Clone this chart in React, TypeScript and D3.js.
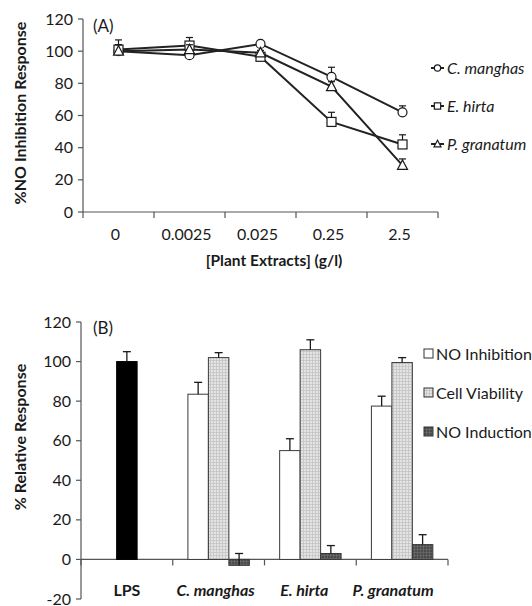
import React from "react";
import * as d3 from "d3";

const concentrations = ["0", "0.0025", "0.025", "0.25", "2.5"];
const lineSeries = ["C. manghas", "E. hirta", "P. granatum"];
const cManghas = [100, 97.5, 104.5, 84, 62];
const cManghasErr = [4, 2, 1.5, 6, 4];
const eHirta = [101, 103.5, 96.5, 56, 42];
const eHirtaErr = [6, 5, 1.5, 6, 6];
const pGranatum = [100, 101, 99, 78, 29];
const pGranatumErr = [4, 3, 1.5, 3, 4];
const yTicksA = [0, 20, 40, 60, 80, 100, 120];

const barCategories = ["LPS", "C. manghas", "E. hirta", "P. granatum"];
const barSeries = ["NO Inhibition", "Cell Viability", "NO Induction"];
const lpsValue = 100;
const lpsErr = 5;
const noInhibition = [83.5, 55, 77.5];
const noInhibitionErr = [6, 6, 5];
const cellViability = [102, 106, 99.5];
const cellViabilityErr = [2.5, 5, 2.5];
const noInduction = [-3, 3, 7.5];
const noInductionErr = [6, 4, 5];
const yTicksB = [-20, 0, 20, 40, 60, 80, 100, 120];

const FONT = "Lato, 'Open Sans', sans-serif";
const INK = "#1a1a1a";

export default function App() {
  // Panel A
  const xA = d3.scaleBand<string>().domain(concentrations).range([83, 438]);
  const yA = d3.scaleLinear().domain([0, 120]).range([212, 19]);
  const seriesA = [
    { name: lineSeries[0], vals: cManghas, errs: cManghasErr, shape: "circle" },
    { name: lineSeries[1], vals: eHirta, errs: eHirtaErr, shape: "square" },
    { name: lineSeries[2], vals: pGranatum, errs: pGranatumErr, shape: "triangle" },
  ];
  const line = d3
    .line<number>()
    .x((_, i) => (xA(concentrations[i]) as number) + xA.bandwidth() / 2)
    .y((d) => yA(d));

  const marker = (shape: string, cx: number, cy: number, s = 1) => {
    if (shape === "circle")
      return <circle cx={cx} cy={cy} r={4.5 * s} fill="#fff" stroke={INK} strokeWidth={1.2} />;
    if (shape === "square")
      return (
        <rect x={cx - 4.5 * s} y={cy - 4.5 * s} width={9 * s} height={9 * s} fill="#fff" stroke={INK} strokeWidth={1.2} />
      );
    const h = 9 * s;
    return (
      <path
        d={`M${cx},${cy - h * 0.6}L${cx + 5 * s},${cy + h * 0.45}L${cx - 5 * s},${cy + h * 0.45}Z`}
        fill="#fff"
        stroke={INK}
        strokeWidth={1.2}
      />
    );
  };

  // Panel B
  const xB = d3.scaleBand<string>().domain(barCategories).range([81, 448]);
  const yB = d3.scaleLinear().domain([-20, 120]).range([599, 322]);
  const inner = d3
    .scaleBand<string>()
    .domain(barSeries)
    .range([0, xB.bandwidth()])
    .paddingInner(0)
    .paddingOuter(0.74);
  const fills = ["#ffffff", "url(#patLight)", "url(#patDark)"];
  const barData = [
    { vals: noInhibition, errs: noInhibitionErr },
    { vals: cellViability, errs: cellViabilityErr },
    { vals: noInduction, errs: noInductionErr },
  ];

  const bars: any[] = [];
  {
    const x = (xB("LPS") as number) + (inner(barSeries[1]) as number);
    const cx = x + inner.bandwidth() / 2;
    bars.push(
      <g key="lps">
        <rect x={x} y={yB(lpsValue)} width={inner.bandwidth()} height={yB(0) - yB(lpsValue)} fill="#000" stroke="#000" />
        <line x1={cx} x2={cx} y1={yB(lpsValue)} y2={yB(lpsValue + lpsErr)} stroke={INK} strokeWidth={1.3} />
        <line x1={cx - 4} x2={cx + 4} y1={yB(lpsValue + lpsErr)} y2={yB(lpsValue + lpsErr)} stroke={INK} strokeWidth={1.3} />
      </g>
    );
  }
  barCategories.slice(1).forEach((cat, ci) => {
    barData.forEach((s, si) => {
      const v = s.vals[ci];
      const e = s.errs[ci];
      const x = (xB(cat) as number) + (inner(barSeries[si]) as number);
      const w = inner.bandwidth();
      const top = Math.min(yB(v), yB(0));
      const h = Math.abs(yB(v) - yB(0));
      const cx = x + w / 2;
      bars.push(
        <g key={cat + si}>
          <rect x={x} y={top} width={w} height={h} fill={fills[si]} stroke="#3a3a3a" strokeWidth={1} />
          <line x1={cx} x2={cx} y1={yB(v)} y2={yB(v + e)} stroke={INK} strokeWidth={1.3} />
          <line x1={cx - 4} x2={cx + 4} y1={yB(v + e)} y2={yB(v + e)} stroke={INK} strokeWidth={1.3} />
        </g>
      );
    });
  });

  return (
    <svg width={532} height={606} style={{ position: "absolute", left: 0, top: 0, background: "#fff" }} fontFamily={FONT}>
      <defs>
        <pattern id="patLight" width="3" height="3" patternUnits="userSpaceOnUse">
          <rect width="3" height="3" fill="#e4e4e4" />
          <path d="M0,0.5H3M0.5,0V3" stroke="#c4c4c4" strokeWidth={0.8} />
        </pattern>
        <pattern id="patDark" width="3" height="3" patternUnits="userSpaceOnUse">
          <rect width="3" height="3" fill="#4a4a4a" />
          <path d="M0,0.5H3M0.5,0V3" stroke="#6a6a6a" strokeWidth={0.8} />
        </pattern>
      </defs>

      {/* Panel A axes */}
      <g stroke="#555" strokeWidth={1.2}>
        <line x1={83} x2={83} y1={19} y2={212} />
        <line x1={83} x2={438} y1={212} y2={212} />
        {yTicksA.map((t) => (
          <line key={t} x1={78} x2={83} y1={yA(t)} y2={yA(t)} />
        ))}
        {concentrations.map((c) => (
          <line key={c} x1={xA(c)} x2={xA(c)} y1={212} y2={218} />
        ))}
        <line x1={438} x2={438} y1={212} y2={218} />
      </g>
      {yTicksA.map((t) => (
        <text key={t} x={73} y={yA(t)} dy="0.35em" textAnchor="end" fontSize={16} fill={INK}>
          {t}
        </text>
      ))}
      {concentrations.map((c) => (
        <text key={c} x={(xA(c) as number) + xA.bandwidth() / 2 - 3} y={240} textAnchor="middle" fontSize={16} fill={INK}>
          {c}
        </text>
      ))}
      <text x={274} y={266} textAnchor="middle" fontSize={15.5} fontWeight="bold" fill={INK}>
        [Plant Extracts] (g/l)
      </text>
      <text transform="translate(26,113) rotate(-90)" textAnchor="middle" fontSize={16} fontWeight="bold" fill={INK}>
        %NO Inhibition Response
      </text>
      <text x={93} y={32} fontSize={17} fill={INK}>
        (A)
      </text>

      {/* Panel A lines */}
      {seriesA.map((s) => (
        <path key={s.name} d={line(s.vals) as string} fill="none" stroke="#222" strokeWidth={2} />
      ))}
      {seriesA.map((s) =>
        s.vals.map((v, i) => {
          const cx = (xA(concentrations[i]) as number) + xA.bandwidth() / 2;
          return (
            <g key={s.name + i}>
              <line x1={cx} x2={cx} y1={yA(v)} y2={yA(v + s.errs[i])} stroke={INK} strokeWidth={1.2} />
              <line x1={cx - 3.5} x2={cx + 3.5} y1={yA(v + s.errs[i])} y2={yA(v + s.errs[i])} stroke={INK} strokeWidth={1.2} />
              {marker(s.shape, cx, yA(v))}
            </g>
          );
        })
      )}

      {/* Panel A legend */}
      {seriesA.map((s, i) => {
        const y = 68 + i * 38;
        return (
          <g key={s.name}>
            <line x1={431} x2={444} y1={y} y2={y} stroke="#222" strokeWidth={2} />
            {marker(s.shape, 437.5, y, 0.7)}
            <text x={447} y={y} dy="0.35em" fontSize={16} fontStyle="italic" fill={INK}>
              {s.name}
            </text>
          </g>
        );
      })}

      {/* Panel B axes */}
      <g stroke="#555" strokeWidth={1.2}>
        <line x1={81} x2={81} y1={322} y2={599} />
        <line x1={81} x2={448} y1={yB(0)} y2={yB(0)} />
        {yTicksB.map((t) => (
          <line key={t} x1={76} x2={81} y1={yB(t)} y2={yB(t)} />
        ))}
        {barCategories.map((c) => (
          <line key={c} x1={xB(c)} x2={xB(c)} y1={yB(0)} y2={yB(0) + 6} />
        ))}
        <line x1={448} x2={448} y1={yB(0)} y2={yB(0) + 6} />
      </g>
      {yTicksB.map((t) => (
        <text key={t} x={71} y={yB(t)} dy="0.35em" textAnchor="end" fontSize={16} fill={INK}>
          {t}
        </text>
      ))}
      {barCategories.map((c, i) => (
        <text
          key={c}
          x={(xB(c) as number) + xB.bandwidth() / 2 - i * 3}
          y={596}
          textAnchor="middle"
          fontSize={16}
          fontWeight="bold"
          fontStyle={i === 0 ? "normal" : "italic"}
          fill={INK}
        >
          {c}
        </text>
      ))}
      <text transform="translate(26,437) rotate(-90)" textAnchor="middle" fontSize={16} fontWeight="bold" fill={INK}>
        % Relative Response
      </text>
      <text x={93} y={334} fontSize={17} fill={INK}>
        (B)
      </text>
      {bars}

      {/* Panel B legend */}
      {barSeries.map((s, i) => {
        const y = 354 + i * 39;
        return (
          <g key={s}>
            <rect x={424} y={y - 5} width={9} height={9} fill={fills[i]} stroke="#333" strokeWidth={1} />
            <text x={436} y={y} dy="0.35em" fontSize={16} fill={INK}>
              {s}
            </text>
          </g>
        );
      })}
    </svg>
  );
}
